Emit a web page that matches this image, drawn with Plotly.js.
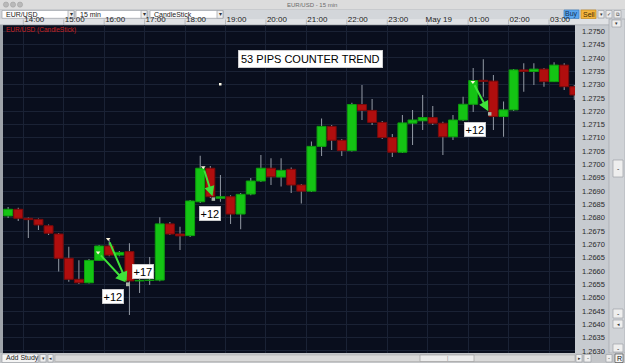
<!DOCTYPE html>
<html>
<head>
<meta charset="utf-8">
<script src="https://cdn.plot.ly/plotly-3.0.1.min.js"></script>
<style>html,body{margin:0;padding:0;background:#c7cbd0;}#chart{width:625px;height:363px;}</style>
</head>
<body>
<div id="chart"></div>
<script>
// ---- data (EUR/USD 15 min candles) ----
const times = [
'2005-05-18 13:30','2005-05-18 13:45','2005-05-18 14:00','2005-05-18 14:15','2005-05-18 14:30','2005-05-18 14:45',
'2005-05-18 15:00','2005-05-18 15:15','2005-05-18 15:30','2005-05-18 15:45','2005-05-18 16:00','2005-05-18 16:15',
'2005-05-18 16:30','2005-05-18 16:45','2005-05-18 17:00','2005-05-18 17:15','2005-05-18 17:30','2005-05-18 17:45',
'2005-05-18 18:00','2005-05-18 18:15','2005-05-18 18:30','2005-05-18 18:45','2005-05-18 19:00','2005-05-18 19:15',
'2005-05-18 19:30','2005-05-18 19:45','2005-05-18 20:00','2005-05-18 20:15','2005-05-18 20:30','2005-05-18 20:45',
'2005-05-18 21:00','2005-05-18 21:15','2005-05-18 21:30','2005-05-18 21:45','2005-05-18 22:00','2005-05-18 22:15',
'2005-05-18 22:30','2005-05-18 22:45','2005-05-18 23:00','2005-05-18 23:15','2005-05-18 23:30','2005-05-18 23:45',
'2005-05-19 00:00','2005-05-19 00:15','2005-05-19 00:30','2005-05-19 00:45','2005-05-19 01:00','2005-05-19 01:15',
'2005-05-19 01:30','2005-05-19 01:45','2005-05-19 02:00','2005-05-19 02:15','2005-05-19 02:30','2005-05-19 02:45',
'2005-05-19 03:00','2005-05-19 03:15','2005-05-19 03:30'];
const openP = [1.26807,1.26832,1.26798,1.26794,1.26770,1.26739,1.26648,1.26569,1.26556,1.26640,
1.26694,1.26660,1.26673,1.26563,1.26565,1.26566,1.26777,1.26739,1.26733,1.26860,
1.26986,1.26873,1.26879,1.26814,1.26889,1.26938,1.26986,1.26953,1.26982,1.26923,
1.26900,1.27068,1.27143,1.27091,1.27052,1.27225,1.27203,1.27158,1.27101,1.27046,
1.27155,1.27164,1.27176,1.27155,1.27104,1.27167,1.27226,1.27316,1.27313,1.27180,
1.27205,1.27355,1.27349,1.27358,1.27311,1.27373,1.27292];
const highP = [1.26840,1.26838,1.26801,1.26797,1.26775,1.26743,1.26691,1.26641,1.26645,1.26698,
1.26717,1.26675,1.26704,1.26570,1.26653,1.26802,1.26784,1.26766,1.26867,1.27033,
1.26994,1.26961,1.26885,1.26893,1.26949,1.27036,1.27023,1.27023,1.26989,1.26927,
1.27086,1.27173,1.27148,1.27096,1.27232,1.27298,1.27246,1.27163,1.27114,1.27186,
1.27205,1.27261,1.27220,1.27160,1.27186,1.27254,1.27362,1.27395,1.27336,1.27236,
1.27358,1.27380,1.27380,1.27362,1.27384,1.27380,1.27298];
const lowP = [1.26799,1.26788,1.26724,1.26754,1.26735,1.26598,1.26560,1.26551,1.26553,1.26638,
1.26656,1.26656,1.26435,1.26518,1.26548,1.26562,1.26735,1.26679,1.26728,1.26855,
1.26874,1.26860,1.26777,1.26757,1.26885,1.26934,1.26923,1.26917,1.26893,1.26854,
1.26897,1.27032,1.27054,1.27032,1.27049,1.27167,1.27148,1.27096,1.27028,1.27043,
1.27073,1.27129,1.27148,1.27036,1.27092,1.27163,1.27197,1.27254,1.27129,1.27104,
1.27201,1.27273,1.27298,1.27292,1.27310,1.27280,1.27242];
const closeP = [1.26832,1.26798,1.26793,1.26773,1.26742,1.26648,1.26569,1.26556,1.26640,1.26694,
1.26660,1.26670,1.26563,1.26565,1.26566,1.26777,1.26739,1.26732,1.26863,1.26986,
1.26879,1.26879,1.26814,1.26888,1.26938,1.26986,1.26954,1.26978,1.26923,1.26900,
1.27068,1.27143,1.27091,1.27052,1.27225,1.27203,1.27158,1.27101,1.27046,1.27156,
1.27167,1.27176,1.27155,1.27104,1.27167,1.27226,1.27315,1.27312,1.27180,1.27205,
1.27355,1.27349,1.27358,1.27311,1.27373,1.27292,1.27261];

const tickTimes = ['2005-05-18 14:00','2005-05-18 15:00','2005-05-18 16:00','2005-05-18 17:00','2005-05-18 18:00',
'2005-05-18 19:00','2005-05-18 20:00','2005-05-18 21:00','2005-05-18 22:00','2005-05-18 23:00',
'2005-05-19 00:00','2005-05-19 01:00','2005-05-19 02:00','2005-05-19 03:00'];
const tickLabels = ['14:00','15:00','16:00','17:00','18:00','19:00','20:00','21:00','22:00','23:00','May 19','01:00','02:00','03:00'];

// trades (entry -> exit) and their results
const entryTimes = ['2005-05-18 15:51','2005-05-18 16:06','2005-05-18 18:27','2005-05-19 01:07'];
const entryPrices = [1.2667,1.2672,1.2699,1.2731];
const exitTimes = ['2005-05-18 16:35','2005-05-18 16:35','2005-05-18 18:42','2005-05-19 01:32'];
const exitPrices = [1.2655,1.2655,1.2687,1.2719];
const tradeLabels = ['+12','+17','+12','+12'];
const labelTimes = ['2005-05-18 16:13','2005-05-18 16:58','2005-05-18 18:37','2005-05-19 01:10'];
const labelPrices = [1.26503,1.26600,1.26817,1.27131];
const headline = '53 PIPS COUNTER TREND';

// ---- helpers: pixel -> paper coordinates for the window chrome ----
const L = 3, R = 575, T = 25, B = 353;
const X = px => (px - L) / (R - L);
const Y = py => (B - py) / (B - T);
const FONT = 'Liberation Sans, Arial, sans-serif';
const shapes = [];
function rect(x0, y0, x1, y1, fill, line, layer) {
  shapes.push({type:'rect', xref:'paper', yref:'paper', x0:X(x0), x1:X(x1), y0:Y(y1), y1:Y(y0),
    fillcolor:fill, line:{color:line||fill, width:line?0.7:0}, layer:layer||'below'});
}
const annotations = [];
function txt(px, py, text, size, color, anchor, extra) {
  annotations.push(Object.assign({xref:'paper', yref:'paper', x:X(px), y:Y(py), text:text, showarrow:false,
    xanchor:anchor||'center', yanchor:'middle', font:{family:FONT, size:size, color:color}}, extra||{}));
}

// window title bar
rect(0,0,625,9.5,'#dcdcdc');
rect(0,9,625,9.6,'#a9a9a9');
[6,13,20].forEach(cx => shapes.push({type:'circle', xref:'paper', yref:'paper', x0:X(cx-2.6), x1:X(cx+2.6), y0:Y(7.2), y1:Y(2), fillcolor:'#b9b9b9', line:{color:'#9a9a9a', width:0.5}, layer:'below'}));
txt(312, 4.6, 'EUR/USD - 15 min', 6, '#6a6a6a');
// toolbar
rect(0,9.6,625,19,'#d3d6da');
[[2,74,'EUR/USD'],[76,147,'15 min'],[150,223,'CandleStick']].forEach(d => {
  rect(d[0],10.5,d[1],18.3,'#ffffff','#9ea2a8');
  rect(d[1]-6,10.5,d[1],18.3,'#eeeeee','#9ea2a8');
  txt(d[0]+2,14.0,d[2],7,'#1a1a1a','left');
  txt(d[1]-3,14.2,'▾',5.5,'#333');
});
rect(564,10,579,18.5,'#5aa6ee','#3d7fc0'); txt(571.5,14.0,'Buy',7,'#12325a');
rect(581,10,596,18.5,'#f3b53e','#c68a1c'); txt(588.5,14.0,'Sell',7,'#4a2d00');
[[598,604,'▾'],[606,612,'✓'],[614,621,'⧉']].forEach(d => { rect(d[0],10.5,d[1],18,'#ececec','#9ea2a8'); txt((d[0]+d[1])/2,14.0,d[2],5,'#333'); });
// time header
rect(0,19,625,25,'#dfe1e4');
rect(0,24.6,625,25.2,'#a5a9ae');
for (let i = 0; i < tickTimes.length; i++) {
  shapes.push({type:'line', xref:'x', yref:'paper', x0:tickTimes[i], x1:tickTimes[i], y0:Y(25), y1:Y(19.5),
    line:{color:'#b3b7bc', width:1}, layer:'below'});
}
// left border
rect(0,25,3,353,'#9ea3a9');
// right scrollbar
rect(609,19,625,353,'#d0d3d7','#a4a8ad');
rect(612,20,621,27,'#eeeeee','#9ea2a8'); txt(616.5,23.4,'▾',5,'#333');
rect(613,160,623,177,'#eeeeee','#9ea2a8'); txt(618,168.5,'-',7,'#333');
rect(613,309,623,318,'#eeeeee','#9ea2a8'); txt(618,313.5,'-',7,'#333');
rect(613,320,623,328,'#eeeeee','#9ea2a8'); txt(618,324,'◂',5,'#333');
rect(613,344,623,352,'#eeeeee','#9ea2a8'); txt(618,348,'-',7,'#333');
// bottom bar
rect(0,353,625,363,'#c4c6c9');
rect(2,354,38,362.5,'#f4f4f4','#9ea2a8'); txt(4,358.3,'Add Study',7,'#222','left');
rect(40,354.5,46,362,'#eeeeee','#9ea2a8'); txt(43,358.3,'▾',5,'#333');
rect(48,354.5,53,362,'#eeeeee','#9ea2a8'); txt(50.5,358.3,'◂',5,'#333');
rect(55,355,575,361.5,'#d9d9d9','#b0b0b0');
rect(420,355,474,361.5,'#ececec','#a0a0a0'); txt(447,358.3,'|',5,'#888');
rect(576,354.5,582,362,'#eeeeee','#9ea2a8'); txt(579,358.3,'▸',5,'#333');
rect(584,354.5,591,362,'#eeeeee','#9ea2a8'); txt(587.5,358.3,'-',6,'#333');
rect(606,354.5,612,362,'#eeeeee','#9ea2a8'); txt(609,358.3,'-',6,'#333');
rect(615,354,623,362.5,'#f4f4f4','#555'); txt(619,358.3,'R',7,'#111');

// stray white dot on the chart
rect(219,83,221.5,85.5,'#fffbe8',null,'above');

// series label
txt(4,30.5,'EUR/USD (CandleStick)',6.5,'#c8201e','left');

// headline box
txt(310,58.5,headline,11,'#000','center',{bgcolor:'#ffffff', borderpad:2.5, bordercolor:'#d8d8d8', borderwidth:0.5});

// trade arrows and labels (data coordinates)
for (let i = 0; i < entryTimes.length; i++) {
  annotations.push({xref:'x', yref:'y', axref:'x', ayref:'y', x:exitTimes[i], y:exitPrices[i], ax:entryTimes[i], ay:entryPrices[i],
    text:'', showarrow:true, arrowhead:2, arrowsize:1, arrowwidth:2, arrowcolor:'#3fe23a', standoff:3, startstandoff:2});
  annotations.push({xref:'x', yref:'y', x:labelTimes[i], y:labelPrices[i], text:tradeLabels[i], showarrow:false,
    font:{family:FONT, size:11, color:'#000'}, bgcolor:'#ffffff', borderpad:1, bordercolor:'#cfcfcf', borderwidth:0.5});
}

// candles: wicks (high-low) and bodies (open-close) as floating bars
const up = openP.map((o,i) => closeP[i] >= o);
const wickSize = highP.map((h,i) => h - lowP[i]);
const bodyBase = openP.map((o,i) => Math.min(o, closeP[i]));
const bodySize = openP.map((o,i) => Math.abs(closeP[i] - o));

const traces = [
  { type:'bar', x:times, y:wickSize, base:lowP, width:95000,
    xperiod:900000, xperiodalignment:'middle',
    marker:{color:'#8b929d', line:{width:0}}, hoverinfo:'skip', showlegend:false },
  { type:'bar', x:times, y:bodySize, base:bodyBase, width:800000,
    xperiod:900000, xperiodalignment:'middle',
    marker:{color:up.map(u => u ? '#14c414' : '#b00e0e'),
            line:{color:up.map(u => u ? '#0d9e0d' : '#7c0a0a'), width:1}},
    hoverinfo:'skip', showlegend:false },
  { type:'scatter', mode:'markers', x:entryTimes, y:entryPrices, cliponaxis:false,
    marker:{symbol:'triangle-down', size:4, color:'#fff6dc'}, hoverinfo:'skip', showlegend:false },
  { type:'scatter', mode:'markers', x:exitTimes, y:exitPrices, cliponaxis:false,
    marker:{symbol:'square', size:3.5, color:'#a8b4a8'}, hoverinfo:'skip', showlegend:false }
];

const layout = {
  width:625, height:363,
  margin:{l:L, r:625-R, t:T, b:363-B, pad:0},
  paper_bgcolor:'#c7cbd0', plot_bgcolor:'#090e1d',
  showlegend:false, hovermode:false, barmode:'overlay',
  font:{family:FONT},
  xaxis:{type:'date', side:'top', range:['2005-05-18 13:29:54','2005-05-19 03:38:32'],
    tickmode:'array', tickvals:tickTimes, ticktext:tickLabels,
    showgrid:true, gridcolor:'#1a2235', gridwidth:1, zeroline:false, showline:false,
    ticks:'', tickfont:{family:FONT, size:8, color:'#1e1e1e'}, ticklabelshift:11, ticklabelstandoff:-2.5,
    fixedrange:true},
  yaxis:{side:'right', range:[1.262924, 1.275236], tickmode:'linear', tick0:1.2630, dtick:0.0005,
    tickformat:'.4f', showgrid:true, gridcolor:'#1a2235', gridwidth:1, zeroline:false, showline:false,
    ticks:'', tickfont:{family:FONT, size:7.5, color:'#2a2a2a'}, ticklabelstandoff:6, fixedrange:true},
  shapes:shapes, annotations:annotations
};

Plotly.newPlot('chart', traces, layout, {displayModeBar:false, staticPlot:true});
</script>
</body>
</html>
